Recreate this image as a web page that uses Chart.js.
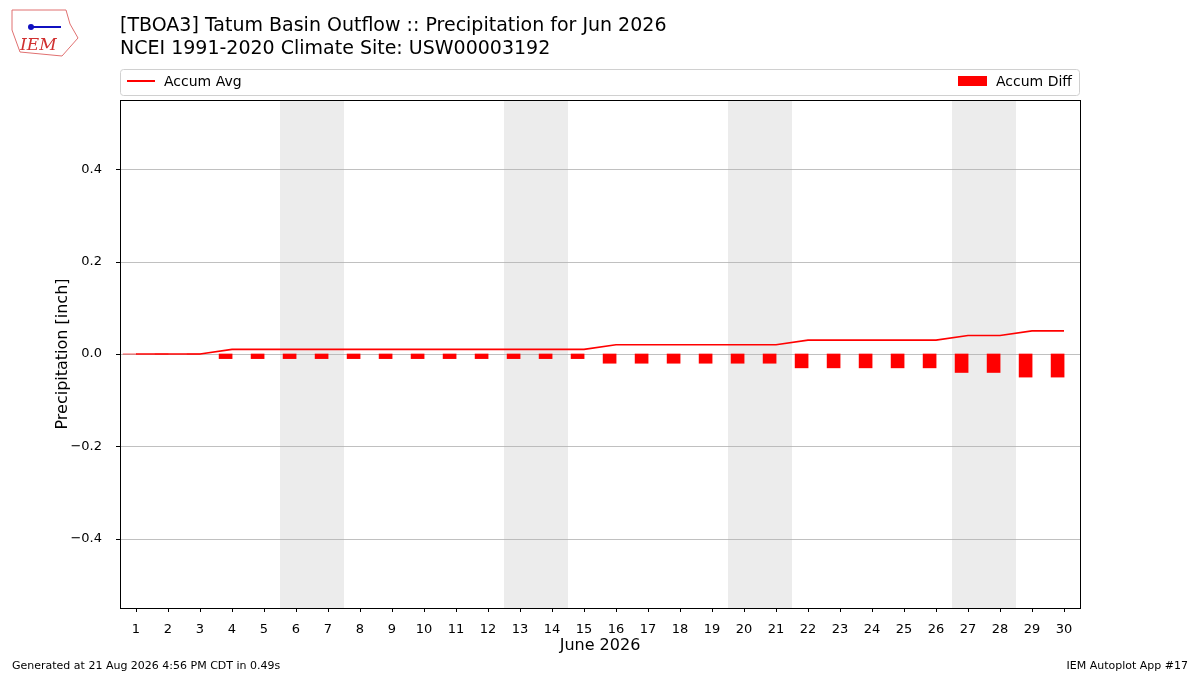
<!DOCTYPE html>
<html><head><meta charset="utf-8">
<script src="https://cdn.jsdelivr.net/npm/chart.js@4/dist/chart.umd.min.js"></script>
<style>html,body{margin:0;padding:0;background:#fff}#w{width:1200px;height:675px}</style>
</head><body><div id="w"><canvas id="c" width="1200" height="675"></canvas></div>
<script>
const days = Array.from({length:30},(_,i)=>i+1);
const accumAvg = [0,0,0,0.01,0.01,0.01,0.01,0.01,0.01,0.01,0.01,0.01,0.01,0.01,0.01,0.02,0.02,0.02,0.02,0.02,0.02,0.03,0.03,0.03,0.03,0.03,0.04,0.04,0.05,0.05];
const accumDiff = [0,0,0,-0.01,-0.01,-0.01,-0.01,-0.01,-0.01,-0.01,-0.01,-0.01,-0.01,-0.01,-0.01,-0.02,-0.02,-0.02,-0.02,-0.02,-0.02,-0.03,-0.03,-0.03,-0.03,-0.03,-0.04,-0.04,-0.05,-0.05];
const weekends = [[5.5,7.5],[12.5,14.5],[19.5,21.5],[26.5,28.5]];
const yTicks = [-0.4,-0.2,0,0.2,0.4];
const F = 'DejaVu Sans';

const deco = {
  id:'deco',
  beforeDatasetsDraw(ch){
    const {ctx, chartArea:a, scales:{x,y}} = ch;
    ctx.save();
    ctx.fillStyle='#ececec';
    weekends.forEach(([s,e])=>{const x0=x.getPixelForValue(s),x1=x.getPixelForValue(e);ctx.fillRect(x0,a.top,x1-x0,a.bottom-a.top);});
    ctx.strokeStyle='#b0b0b0';ctx.lineWidth=0.8;
    yTicks.forEach(v=>{const p=Math.round(y.getPixelForValue(v))+0.5;ctx.beginPath();ctx.moveTo(a.left,p);ctx.lineTo(a.right,p);ctx.stroke();});
    ctx.restore();
  },
  afterDraw(ch){
    const {ctx, chartArea:a, scales:{x,y}} = ch;
    ctx.save();
    ctx.strokeStyle='#000';ctx.lineWidth=1;
    ctx.strokeRect(a.left+0.5,a.top+0.5,a.right-a.left,a.bottom-a.top);
    ctx.beginPath();
    days.forEach(d=>{const p=Math.round(x.getPixelForValue(d))+0.5;ctx.moveTo(p,a.bottom);ctx.lineTo(p,a.bottom+4);});
    yTicks.forEach(v=>{const p=Math.round(y.getPixelForValue(v))+0.5;ctx.moveTo(a.left,p);ctx.lineTo(a.left-4,p);});
    ctx.stroke();
    ctx.fillStyle='#000';ctx.textBaseline='alphabetic';ctx.textAlign='left';
    ctx.font='19px '+F;
    ctx.fillText('[TBOA3] Tatum Basin Outflow :: Precipitation for Jun 2026',120,31);
    ctx.fillText('NCEI 1991-2020 Climate Site: USW00003192',120,54);
    ctx.strokeStyle='#d0d0d0';ctx.lineWidth=1;
    ctx.beginPath();ctx.roundRect(120.5,69.5,959,26,3);ctx.stroke();
    ctx.strokeStyle='#ff0000';ctx.lineWidth=2;
    ctx.beginPath();ctx.moveTo(127,81);ctx.lineTo(155,81);ctx.stroke();
    ctx.font='14px '+F;ctx.fillStyle='#000';
    ctx.fillText('Accum Avg',164,86);
    ctx.fillStyle='#ff0000';ctx.fillRect(958,76,29,10);
    ctx.fillStyle='#000';ctx.fillText('Accum Diff',996,86);
    ctx.font='16px '+F;ctx.textAlign='center';
    ctx.fillText('June 2026',600,650);
    ctx.save();ctx.translate(67,354);ctx.rotate(-Math.PI/2);ctx.fillText('Precipitation [inch]',0,0);ctx.restore();
    ctx.font='11px '+F;ctx.textAlign='left';
    ctx.fillText('Generated at 21 Aug 2026 4:56 PM CDT in 0.49s',12,669);
    ctx.textAlign='right';ctx.fillText('IEM Autoplot App #17',1188,669);
    ctx.strokeStyle='#e07070';ctx.lineWidth=1;
    ctx.beginPath();ctx.moveTo(12,10);ctx.lineTo(66,10);ctx.lineTo(70,24);ctx.lineTo(78,38);ctx.lineTo(62,56);ctx.lineTo(20,52);ctx.lineTo(12,30);ctx.closePath();ctx.stroke();
    ctx.fillStyle='#1010c0';ctx.beginPath();ctx.arc(31,27,3,0,7);ctx.fill();
    ctx.fillRect(31,26,30,2);
    ctx.fillStyle='#d03030';ctx.font='italic 17px "DejaVu Serif"';ctx.textAlign='left';
    ctx.fillText('IEM',20,50);
    ctx.restore();
  }
};

new Chart(document.getElementById('c'),{
  data:{
    datasets:[
      {type:'line',label:'Accum Avg',data:days.map((d,i)=>({x:d,y:accumAvg[i]})),borderColor:'#ff0000',borderWidth:1.6,pointRadius:0,tension:0,order:0},
      {type:'bar',label:'Accum Diff',data:days.map((d,i)=>({x:d-0.2,y:accumDiff[i]})),backgroundColor:'#ff0000',barThickness:13,order:1}
    ]
  },
  options:{
    responsive:false,animation:false,
    layout:{padding:{top:100,right:120,left:0,bottom:0}},
    plugins:{legend:{display:false},tooltip:{enabled:false}},
    scales:{
      x:{type:'linear',min:0.5,max:30.5,offset:false,grid:{display:false},border:{display:false},
        afterBuildTicks(s){s.ticks=days.map(v=>({value:v}));},
        afterFit(s){s.height=67;},
        ticks:{color:'#000',font:{family:F,size:13},maxRotation:0,autoSkip:false,padding:6,callback:v=>v}},
      y:{min:-0.55,max:0.55,grid:{display:false},border:{display:false},
        afterBuildTicks(s){s.ticks=yTicks.map(v=>({value:v}));},
        afterFit(s){s.width=120;},
        ticks:{color:'#000',font:{family:F,size:13},padding:10,callback:v=>(v<0?'\u2212':'')+Math.abs(v).toFixed(1)}}
    }
  },
  plugins:[deco]
});
</script></body></html>
